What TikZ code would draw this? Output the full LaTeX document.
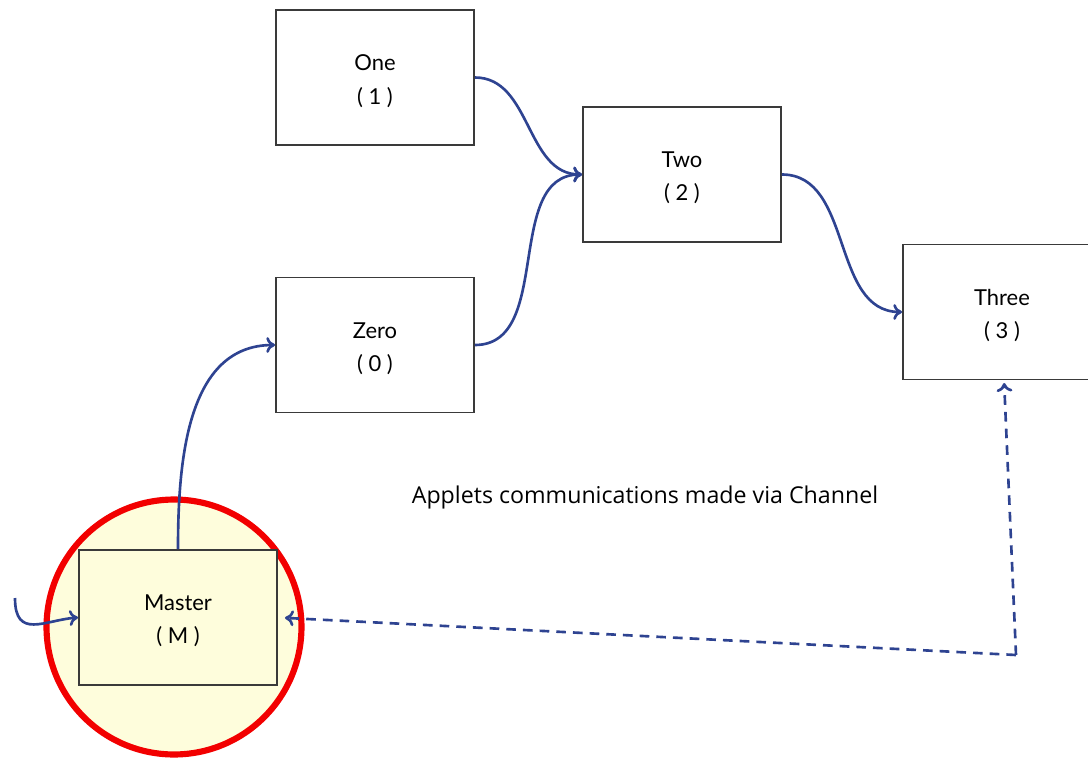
\documentclass[tikz,border=0pt]{standalone}
\usepackage{fontspec}
\setmainfont{Lato}
\newfontfamily\capfont{Open Sans}
\usetikzlibrary{arrows.meta}
\definecolor{arrowblue}{HTML}{2E4391}
\definecolor{boxgray}{HTML}{3A3A3A}
\definecolor{paleyellow}{HTML}{FEFDDC}
\definecolor{ringred}{HTML}{F20000}
\tikzset{
  px/.style={x=0.02cm,y=-0.02cm},
  applet/.style={draw=boxgray, line width=1.1pt, minimum width=3.96cm, minimum height=2.7cm, inner sep=0pt},
  appletlabel/.style={align=center, font=\fontsize{12.5}{19}\selectfont, inner sep=0pt},
  link/.style={draw=arrowblue, line width=1.5pt, -{To[length=5pt,width=9pt]}},
  channel/.style={draw=arrowblue, line width=1.5pt, dash pattern=on 5.5pt off 4pt}
}
\begin{document}
\begin{tikzpicture}[px]
\useasboundingbox (0,0) rectangle (1088,757);
\begin{scope}
\clip (0,0) rectangle (1088,757);
% highlight circle
\node[circle, draw=ringred, fill=paleyellow, line width=3.5pt, minimum size=5.1cm, inner sep=0pt] (ring) at (174,627) {};
% boxes
\node[applet] (one) at (375,77.5) {};
\node[applet] (two) at (682,174.5) {};
\node[applet] (zero) at (375,345) {};
\node[applet] (three) at (1002,312) {};
\node[applet, fill=paleyellow] (master) at (178,617.5) {};
\node[appletlabel] (onet) at ([yshift=-3.5*0.02cm]one.center) {One\\( 1 )};
\node[appletlabel] (twot) at ([yshift=-3.5*0.02cm]two.center) {Two\\( 2 )};
\node[appletlabel] (zerot) at ([yshift=-3.5*0.02cm]zero.center) {Zero\\( 0 )};
\node[appletlabel] (threet) at ([yshift=-3.5*0.02cm]three.center) {Three\\( 3 )};
\node[appletlabel] (mastert) at ([yshift=-3.5*0.02cm]master.center) {Master\\( M )};
% caption
\node[font=\capfont\fontsize{13.2}{16}\selectfont] (caption) at (645,497) {Applets communications made via Channel};
% connectors
\draw[link] (one.east) to[out=0,in=180] (two.west);
\draw[link] (zero.east) to[out=0,in=180] (two.west);
\draw[link] (two.east) to[out=0,in=180] (three.west);
\draw[link] (master.north) to[out=90,in=180] (zero.west);
\coordinate (src) at (15,598);
\draw[link] (src) .. controls (15,640) and (45,620) .. (master.west);
\coordinate (bend) at (1016,655);
\draw[channel, -{To[length=5pt,width=9pt]}, shorten >=4pt] (bend) -- (master.east);
\draw[channel, -{To[length=5pt,width=9pt]}, shorten >=2pt] (bend) -- (1004,379.5);
\end{scope}
\end{tikzpicture}
\end{document}
